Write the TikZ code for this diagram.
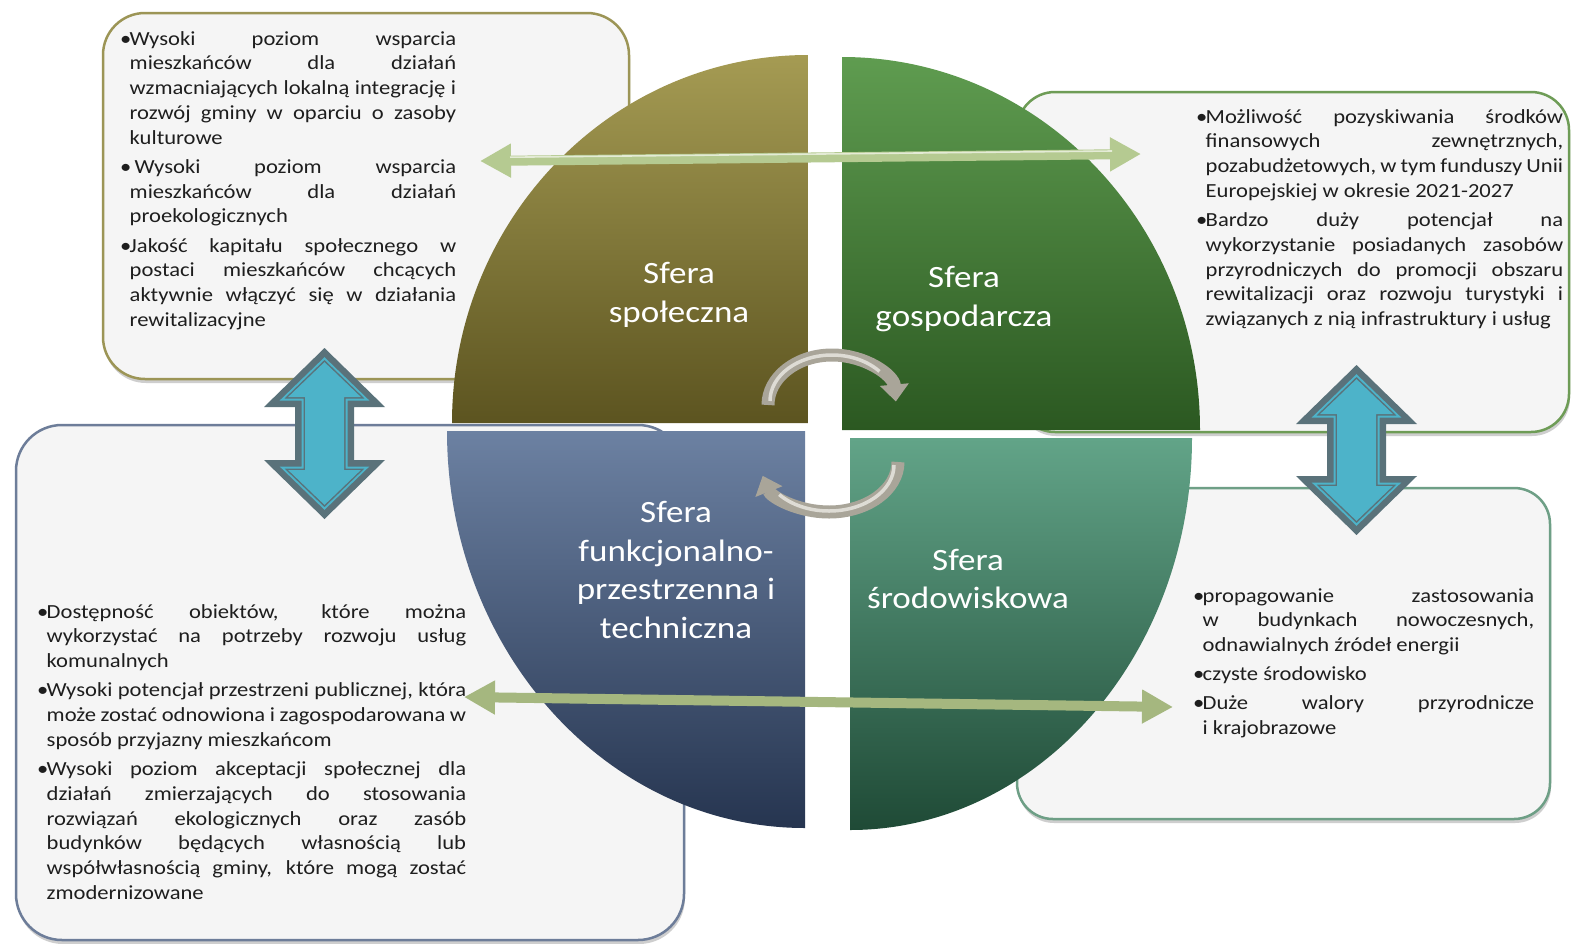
\documentclass[tikz,border=0pt]{standalone}
\usepackage{fontspec}
\setmainfont{Carlito}[FakeStretch=1.13]
\usetikzlibrary{arrows.meta,shadows}
\definecolor{panelfill}{HTML}{F5F5F5}
\definecolor{olivebd}{HTML}{9C9556}
\definecolor{greenbd}{HTML}{6E9C56}
\definecolor{slatebd}{HTML}{6D7D99}
\definecolor{tealbd}{HTML}{6E9F86}
\definecolor{oliveT}{HTML}{A59B53}
\definecolor{oliveB}{HTML}{5C5420}
\definecolor{greenT}{HTML}{5F9C50}
\definecolor{greenB}{HTML}{2B5821}
\definecolor{blueT}{HTML}{6C81A2}
\definecolor{blueB}{HTML}{263550}
\definecolor{tealT}{HTML}{62A488}
\definecolor{tealB}{HTML}{1F4A36}
\definecolor{garrowA}{HTML}{B5CA91}
\definecolor{garrowB}{HTML}{A5B77F}
\definecolor{garrowHi}{HTML}{E4EBD6}
\definecolor{darrDark}{HTML}{5A727A}
\definecolor{darrCyan}{HTML}{4DB3C9}
\definecolor{metal}{HTML}{A9A599}
\definecolor{metalHi}{HTML}{DEDCD5}
\definecolor{txt}{HTML}{1E1E1E}
\newlength\bind
\setlength\bind{9.5pt}
% justified bullet line, left bullet line, justified continuation, last continuation
\newcommand\Bj[1]{\hbox to \linewidth{\makebox[\bind][l]{\textbullet}#1}}
\newcommand\Bl[1]{\hbox to \linewidth{\makebox[\bind][l]{\textbullet}#1\hfil}}
\newcommand\Lj[1]{\hbox to \linewidth{\hspace*{\bind}#1}}
\newcommand\Ll[1]{\hbox to \linewidth{\hspace*{\bind}#1\hfil}}
\newcommand\gap{\vskip4.3pt}
% double vertical arrow: cx, top tip, bottom tip, inset
\newcommand\darr[4]{(#1,#2+1.414*#4) -- (#1+60.5-2.414*#4,#2+59-#4) -- (#1+29.5-#4,#2+59-#4) -- (#1+29.5-#4,#3-59+#4) -- (#1+60.5-2.414*#4,#3-59+#4) -- (#1,#3-1.414*#4) -- (#1-60.5+2.414*#4,#3-59+#4) -- (#1-29.5+#4,#3-59+#4) -- (#1-29.5+#4,#2+59-#4) -- (#1-60.5+2.414*#4,#2+59-#4) -- cycle}
\begin{document}
\begin{tikzpicture}[x=1pt,y=-1pt,
  panel/.style={draw=#1, line width=2.5pt, fill=panelfill, rounded corners=42pt, inner sep=0pt,
    drop shadow={shadow xshift=1pt, shadow yshift=-4pt, opacity=0.35, fill=black!55}},
  paneltext/.style={anchor=base west, inner sep=0pt, text=txt, font=\fontsize{20pt}{24.8pt}\selectfont},
  sphere/.style={text=white, align=center, font=\fontsize{31pt}{38.8pt}\selectfont, inner sep=0pt},
  greenarrow/.style={line width=10pt, {Triangle[width=32pt,length=31pt]}-{Triangle[width=32pt,length=31pt]}},
  cyclearrow/.style={line width=13pt, draw=metal, -{Triangle[width=28pt,length=17pt]}},
  cyclehi/.style={line width=3.5pt, draw=metalHi}
]
\useasboundingbox (0,0) rectangle (1572,943);
\fill[white] (0,0) rectangle (1572,943);

% panels
\node[panel=olivebd, minimum width=526pt, minimum height=366pt] (bTL) at (366,196) {};
\node[panel=greenbd, minimum width=552pt, minimum height=340pt, rounded corners=38pt] (bTR) at (1293,262) {};
\node[panel=slatebd, minimum width=668pt, minimum height=515pt, rounded corners=46pt] (bBL) at (350,682.5) {};
\node[panel=tealbd, minimum width=533pt, minimum height=331pt, rounded corners=36pt] (bBR) at (1283.5,653.5) {};

% quadrants
\shade[top color=oliveT, bottom color=oliveB] (808,423) -- (452,423) arc[start angle=180, end angle=270, x radius=356, y radius=368] -- cycle;
\shade[top color=greenT, bottom color=greenB] (842,430) -- (842,57) arc[start angle=270, end angle=360, x radius=358, y radius=373] -- cycle;
\shade[top color=tealT, bottom color=tealB] (850,438) -- (1192,438) arc[start angle=0, end angle=90, x radius=342, y radius=392] -- cycle;
\shade[top color=blueT, bottom color=blueB] (805,431) -- (805,828) arc[start angle=90, end angle=180, x radius=358, y radius=397] -- cycle;

% sphere labels
\node[sphere] (sSpol) at (679,295) {Sfera\\społeczna};
\node[sphere] (sGosp) at (964,299) {Sfera\\gospodarcza};
\node[sphere] (sFunk) at (676,570) {Sfera\\funkcjonalno-\\przestrzenna i\\techniczna};
\node[sphere] (sSrod) at (968,579) {Sfera\\środowiskowa};

% panel texts
\node[paneltext] (tTL) at (120,45) {\parbox[t]{336pt}{%
\Bj{Wysoki poziom wsparcia}
\Lj{mieszkańców dla działań}
\Lj{wzmacniających lokalną integrację i}
\Lj{rozwój gminy w oparciu o zasoby}
\Ll{kulturowe}
\gap
\Bj{\hspace{5pt}Wysoki poziom wsparcia}
\Lj{mieszkańców dla działań}
\Ll{proekologicznych}
\gap
\Bj{Jakość kapitału społecznego w}
\Lj{postaci mieszkańców chcących}
\Lj{aktywnie włączyć się w działania}
\Ll{rewitalizacyjne}}};

\node[paneltext] (tTR) at (1196,123) {\parbox[t]{367pt}{%
\Bj{Możliwość pozyskiwania środków}
\Lj{finansowych zewnętrznych,}
\Lj{pozabudżetowych, w tym funduszy Unii}
\Ll{Europejskiej w okresie 2021-2027}
\gap
\Bj{Bardzo duży potencjał na}
\Lj{wykorzystanie posiadanych zasobów}
\Lj{przyrodniczych do promocji obszaru}
\Lj{rewitalizacji oraz rozwoju turystyki i}
\Ll{związanych z nią infrastruktury i usług}}};

\node[paneltext] (tBR) at (1193,602) {\parbox[t]{341pt}{%
\Bj{propagowanie zastosowania}
\Lj{w budynkach nowoczesnych,}
\Ll{odnawialnych źródeł energii}
\gap
\Bl{czyste środowisko}
\gap
\Bj{Duże walory przyrodnicze}
\Ll{i krajobrazowe}}};

\node[paneltext] (tBL) at (37,618) {\parbox[t]{429pt}{%
\Bj{Dostępność obiektów, które można}
\Lj{wykorzystać na potrzeby rozwoju usług}
\Ll{komunalnych}
\gap
\Bj{Wysoki potencjał przestrzeni publicznej, która}
\Lj{może zostać odnowiona i zagospodarowana w}
\Ll{sposób przyjazny mieszkańcom}
\gap
\Bj{Wysoki poziom akceptacji społecznej dla}
\Lj{działań zmierzających do stosowania}
\Lj{rozwiązań ekologicznych oraz zasób}
\Lj{budynków będących własnością lub}
\Lj{współwłasnością gminy, które mogą zostać}
\Ll{zmodernizowane}}};

% central cycle arrows
\coordinate (cTop) at (832,405);
\coordinate (cBot) at (829,462);
\draw[cyclearrow] (768,405) arc[start angle=180, end angle=356, x radius=64, y radius=50];
\draw[cyclehi] (770,401) arc[start angle=180, end angle=320, x radius=62, y radius=46];
\draw[cyclearrow] (898,462) arc[start angle=0, end angle=164, x radius=69, y radius=50];
\draw[cyclehi] (894,465) arc[start angle=0, end angle=140, x radius=65, y radius=46];

% green horizontal arrows
\coordinate (gTLa) at (480,161);
\coordinate (gTRa) at (1141,154);
\coordinate (gBLa) at (464,697);
\coordinate (gBRa) at (1173,707);
\draw[greenarrow, draw=garrowA, fill=garrowA] (gTLa) -- (gTRa);
\draw[line width=1.6pt, draw=garrowHi] (510,157.2) -- (1112,151);
\draw[greenarrow, draw=garrowB, fill=garrowB] (gBLa) -- (gBRa);

% blue vertical double arrows
\fill[darrDark] \darr{324.5}{348}{519}{0};
\fill[darrCyan] \darr{324.5}{348}{519}{6.5};
\fill[darrDark] \darr{324.5}{348}{519}{8.5};
\fill[darrCyan] \darr{324.5}{348}{519}{10};
\fill[darrDark] \darr{1356.5}{365}{535}{0};
\fill[darrCyan] \darr{1356.5}{365}{535}{6.5};
\fill[darrDark] \darr{1356.5}{365}{535}{8.5};
\fill[darrCyan] \darr{1356.5}{365}{535}{10};
\end{tikzpicture}
\end{document}
